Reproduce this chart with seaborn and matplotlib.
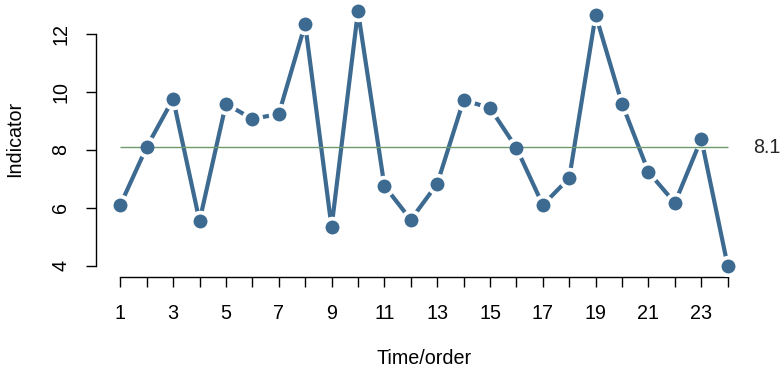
import numpy as np
import pandas as pd
import matplotlib
matplotlib.use('Agg')
import matplotlib.pyplot as plt
import seaborn as sns

# valores
ordem = list(range(1, 25))
indicador = [6.10, 8.10, 9.76, 5.55, 9.59, 9.07, 9.24, 12.34, 5.34, 12.79, 6.76, 5.59,
             6.83, 9.72, 9.45, 8.07, 6.10, 7.03, 12.66, 9.59, 7.24, 6.17, 8.38, 4.00]
yticks = [4, 6, 8, 10, 12]
xticklabels = [str(i) if i % 2 == 1 else '' for i in ordem]

df = pd.DataFrame({'Time/order': ordem, 'Indicator': indicador})
mediana = np.median(indicador)

sns.set_theme(style='white')
plt.rcParams['font.family'] = ['Liberation Sans', 'DejaVu Sans']

cor = '#3c6a90'
fs = 14.2
fig = plt.figure(figsize=(7.81, 3.73), dpi=100)
ax = fig.add_axes([96 / 781, 1 - 276 / 373, 656 / 781, 275 / 373])

# linha com pontos (estilo type="b")
sns.lineplot(data=df, x='Time/order', y='Indicator', color=cor, linewidth=3.0, ax=ax, zorder=2)
sns.scatterplot(data=df, x='Time/order', y='Indicator', color='white', s=240, linewidth=0,
                ax=ax, zorder=3)
ax.hlines(mediana, ordem[0], ordem[-1], color='#6e9a6e', linewidth=1.0, zorder=4)
sns.scatterplot(data=df, x='Time/order', y='Indicator', color=cor, s=100, linewidth=0,
                ax=ax, zorder=5)
ax.text(ordem[-1] + 0.95, mediana, f'{mediana:.1f}', ha='left', va='center', fontsize=fs,
        clip_on=False)

pad = 0.04
ax.set_xlim(ordem[0] - pad * (ordem[-1] - ordem[0]), ordem[-1] + pad * (ordem[-1] - ordem[0]))
rng = max(indicador) - min(indicador)
ax.set_ylim(min(indicador) - pad * rng, max(indicador) + pad * rng)

ax.set_xticks(ordem)
ax.set_xticklabels(xticklabels)
ax.set_yticks(yticks)
ax.set_yticklabels([str(v) for v in yticks])

for s in ['top', 'right']:
    ax.spines[s].set_visible(False)
ax.spines['left'].set_bounds(yticks[0], yticks[-1])
ax.spines['bottom'].set_bounds(ordem[0], ordem[-1])
for s in ['left', 'bottom']:
    ax.spines[s].set_color('black')
    ax.spines[s].set_linewidth(1.0)
ax.spines['bottom'].set_position(('outward', 1))

ax.tick_params(axis='both', direction='out', length=7.5, width=1.0, color='black',
               labelsize=fs, labelcolor='black', left=True, bottom=True)
ax.tick_params(axis='y', labelrotation=90, pad=11)
ax.tick_params(axis='x', pad=12)
for lab in ax.get_yticklabels():
    lab.set_va('center')

ax.set_xlabel('Time/order', fontsize=fs, color='black')
ax.set_ylabel('Indicator', fontsize=fs, color='black')
ax.xaxis.set_label_coords(0.5, -0.265)
ax.yaxis.set_label_coords(-0.11, 0.5)

fig.savefig('out.png', dpi=100)
